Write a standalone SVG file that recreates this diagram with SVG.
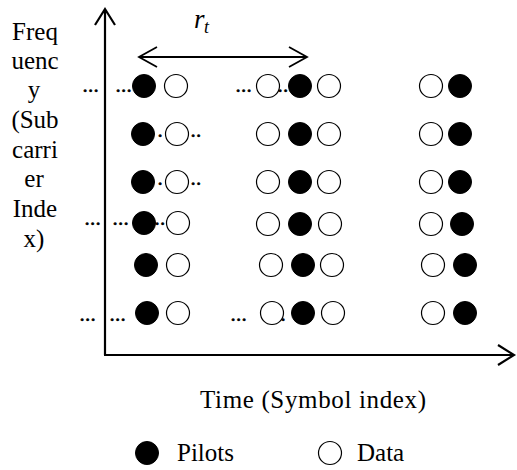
<svg xmlns="http://www.w3.org/2000/svg" width="517" height="470" viewBox="0 0 517 470">
  <style>
    .lbl { font-family: "Liberation Serif", "Times New Roman", serif; font-size: 25px; fill: #000; }
    .dots { font-family: "Liberation Serif", "Times New Roman", serif; font-size: 21px; letter-spacing: 0.3px; fill: #000; stroke: #000; stroke-width: 0.6; }
    .math { font-family: "Liberation Serif", "Times New Roman", serif; font-style: italic; fill: #000; }
    .axis { stroke: #000; stroke-width: 2.2; fill: none; }
    .span { stroke: #000; stroke-width: 1.8; fill: none; }
    .pilot { fill: #000; stroke: #000; stroke-width: 1; }
    .data { fill: #fff; stroke: #000; stroke-width: 1.2; }
  </style>

  <!-- axes -->
  <g id="connectors">
    <path class="axis" d="M105,355 V9 M95,25 L105,9 L115,25"/>
    <path class="axis" d="M104,355 H514 M498,345 L514,355 L498,365"/>
    <path class="span" d="M139,57 H307 M157,47 L139,57 L157,67 M289,47 L307,57 L289,67"/>
  </g>

  <!-- axis labels -->
  <g id="freq-label">
    <text class="lbl" text-anchor="middle" x="35" y="40">Freq</text>
    <text class="lbl" text-anchor="middle" x="35" y="69">uenc</text>
    <text class="lbl" text-anchor="middle" x="34" y="98">y</text>
    <text class="lbl" text-anchor="middle" x="35" y="128">(Sub</text>
    <text class="lbl" text-anchor="middle" x="35" y="158">carri</text>
    <text class="lbl" text-anchor="middle" x="34" y="187">er</text>
    <text class="lbl" text-anchor="middle" x="35" y="217">Inde</text>
    <text class="lbl" text-anchor="middle" x="34" y="247">x)</text>
  </g>
  <g id="time-label">
    <text class="lbl" x="200" y="408" textLength="226">Time (Symbol index)</text>
  </g>
  <g id="rt-label">
    <text class="math" x="194" y="28" font-size="27">r</text>
    <text class="math" x="204" y="33" font-size="18">t</text>
  </g>

  <!-- ellipsis marks -->
  <g id="dots">
    <text class="dots" x="82.5" y="92">...</text>
    <text class="dots" x="115.5" y="92">...</text>
    <text class="dots" x="235.5" y="92">...</text>
    <text class="dots" x="277.5" y="92">...</text>
    <text class="dots" x="157.5" y="137">.</text>
    <text class="dots" x="190.5" y="137">..</text>
    <text class="dots" x="157.5" y="185">.</text>
    <text class="dots" x="190.5" y="185">..</text>
    <text class="dots" x="84.5" y="225">...</text>
    <text class="dots" x="112.5" y="225">...</text>
    <text class="dots" x="154.5" y="225">..</text>
    <text class="dots" x="79.5" y="321">...</text>
    <text class="dots" x="109.5" y="321">...</text>
    <text class="dots" x="230.5" y="321">...</text>
    <text class="dots" x="280.5" y="321">.</text>
  </g>

  <!-- symbol grid -->
  <g id="column-1">
    <circle class="pilot" cx="144" cy="86" r="11.5"/><circle class="data" cx="176" cy="86" r="11.5"/>
    <circle class="pilot" cx="143" cy="134" r="11.5"/><circle class="data" cx="177" cy="134" r="11.5"/>
    <circle class="pilot" cx="143" cy="182" r="11.5"/><circle class="data" cx="177" cy="182" r="11.5"/>
    <circle class="pilot" cx="144" cy="223" r="11.5"/><circle class="data" cx="178" cy="223" r="11.5"/>
    <circle class="pilot" cx="146" cy="265" r="11.5"/><circle class="data" cx="178" cy="265" r="11.5"/>
    <circle class="pilot" cx="147" cy="313" r="11.5"/><circle class="data" cx="178" cy="313" r="11.5"/>
  </g>
  <g id="column-2">
    <circle class="data" cx="268" cy="86" r="11.5"/><circle class="pilot" cx="300" cy="86" r="11.5"/><circle class="data" cx="329" cy="86" r="11.5"/>
    <circle class="data" cx="268" cy="134" r="11.5"/><circle class="pilot" cx="300" cy="134" r="11.5"/><circle class="data" cx="329" cy="134" r="11.5"/>
    <circle class="data" cx="268" cy="182" r="11.5"/><circle class="pilot" cx="300" cy="182" r="11.5"/><circle class="data" cx="329" cy="182" r="11.5"/>
    <circle class="data" cx="268" cy="224" r="11.5"/><circle class="pilot" cx="300" cy="224" r="11.5"/><circle class="data" cx="330" cy="224" r="11.5"/>
    <circle class="data" cx="271" cy="265" r="11.5"/><circle class="pilot" cx="303" cy="265" r="11.5"/><circle class="data" cx="332" cy="265" r="11.5"/>
    <circle class="data" cx="272" cy="313" r="11.5"/><circle class="pilot" cx="303" cy="313" r="11.5"/><circle class="data" cx="333" cy="313" r="11.5"/>
  </g>
  <g id="column-3">
    <circle class="data" cx="431" cy="86" r="11.5"/><circle class="pilot" cx="460" cy="86" r="11.5"/>
    <circle class="data" cx="431" cy="134" r="11.5"/><circle class="pilot" cx="460" cy="134" r="11.5"/>
    <circle class="data" cx="431" cy="182" r="11.5"/><circle class="pilot" cx="460" cy="182" r="11.5"/>
    <circle class="data" cx="431" cy="224" r="11.5"/><circle class="pilot" cx="462" cy="224" r="11.5"/>
    <circle class="data" cx="433" cy="265" r="11.5"/><circle class="pilot" cx="465" cy="265" r="11.5"/>
    <circle class="data" cx="433" cy="313" r="11.5"/><circle class="pilot" cx="465" cy="313" r="11.5"/>
  </g>

  <!-- legend -->
  <g id="legend-pilots">
    <circle class="pilot" cx="147" cy="453" r="11.5"/>
    <text class="lbl" x="177" y="461">Pilots</text>
  </g>
  <g id="legend-data">
    <circle class="data" cx="330" cy="453" r="11.5"/>
    <text class="lbl" x="357" y="461">Data</text>
  </g>
</svg>
